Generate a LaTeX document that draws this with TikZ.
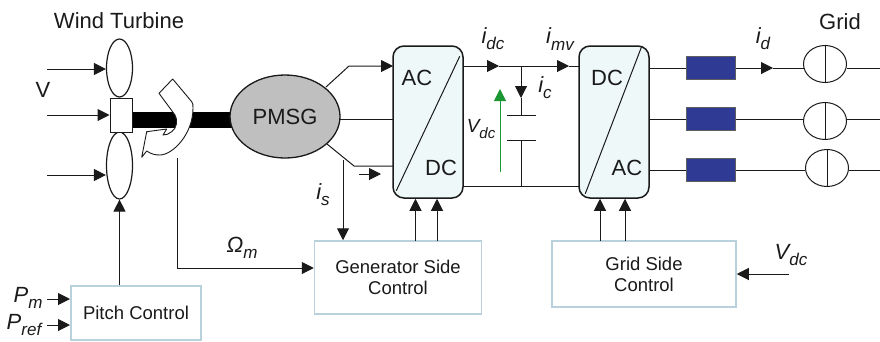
\documentclass[tikz,border=0pt]{standalone}
\usepackage{fontspec}
\setmainfont{Liberation Sans}
\usetikzlibrary{arrows.meta,shapes.geometric}
\definecolor{convfill}{HTML}{EEF8F8}
\definecolor{ctrlline}{HTML}{B9D1DC}
\definecolor{filtblue}{HTML}{2E3A94}
\definecolor{vgreen}{HTML}{1A9632}
\definecolor{ink}{HTML}{1A1A1A}
\newcommand{\sbs}[1]{\raisebox{-0.28em}{\fontsize{17}{17}\selectfont #1}}

\begin{document}
\begin{tikzpicture}[x=1pt, y=-1pt, line width=1pt, color=ink,
  big/.style={font=\fontsize{22}{24}\selectfont, inner sep=0pt},
  sym/.style={font=\fontsize{22}{24}\selectfont\itshape, inner sep=0pt},
  blade/.style={shape=ellipse, draw, fill=white, inner sep=0pt, line width=1.2pt, minimum width=26pt},
  conv/.style={draw, rounded corners=11pt, fill=convfill, line width=1.5pt, minimum width=70pt, minimum height=152pt, inner sep=0pt},
  ctrl/.style={draw=ctrlline, line width=1.5pt, fill=white, align=center, text=ink, inner sep=0pt, font=\fontsize{18.5}{21}\selectfont},
  filt/.style={draw=ink!70, fill=filtblue, minimum width=49pt, minimum height=23pt, inner sep=0pt},
  src/.style={shape=ellipse, draw, fill=white, minimum width=43pt, minimum height=37pt, inner sep=0pt},
  e/.style={-{Triangle[length=12pt, width=12pt]}}]
\useasboundingbox (0,0) rectangle (880,341);
% turbine
\coordinate (sh1) at (125,120); \coordinate (sh2) at (240,120);
\draw[line width=16.5pt, color=black] (sh1) -- (sh2);
\node[blade, minimum height=58pt] (bladeA) at (119.5,68) {};
\node[blade, minimum height=67pt] (bladeB) at (119.5,165.5) {};
\node[draw, fill=white, inner sep=0pt, minimum width=22pt, minimum height=34pt] (hub) at (121,115) {};
\node[shape=ellipse, draw, fill=black!25, inner sep=0pt, line width=1.3pt, minimum width=110pt, minimum height=83pt, big] (pmsg) at (285,116.5) {PMSG};
\node[big] (wt) at (119,21) {Wind Turbine};
\node[big] (grid) at (840,22) {Grid};
\node[big] (vlab) at (43,90) {V};
% rotation arrow
\draw[fill=white, line width=0.9pt, line join=round] (172.7,79) -- (159,93.3) -- (175,115) .. controls (178,120) and (177,128) .. (171.7,131.7)
  .. controls (169,134) and (166,135) .. (163,135) -- (166.7,129) -- (146.7,131.7) -- (141.7,157.3) -- (146.7,151)
  .. controls (151,154) and (155,155) .. (160,155) .. controls (172,155) and (193,135) .. (193,108) .. controls (193,105) and (193,103) .. (191.7,101.7) -- cycle;
\coordinate (w1) at (47,69); \coordinate (w2) at (47,115); \coordinate (w3) at (47,175);
\draw[e] (w1) -- (w1 -| bladeA.west);
\draw[e] (w2) -- (w2 -| hub.west);
\draw[e] (w3) -- (w3 -| bladeB.west);
% converters
\node[conv] (conv1) at (428,122) {};
\node[conv] (conv2) at (614,122) {};
\draw ([xshift=-4pt,yshift=-11pt]conv1.north east) -- ([xshift=4pt,yshift=8pt]conv1.south west);
\draw ([xshift=-8pt,yshift=-1pt]conv2.north east) -- ([xshift=7pt,yshift=5pt]conv2.south west);
\node[big] (ac1) at (417,78) {AC};
\node[big] (dc1) at (441,168) {DC};
\node[big] (dc2) at (607,78) {DC};
\node[big] (ac2) at (627,168) {AC};
% generator lines
\coordinate (g1) at (326,87); \coordinate (g1b) at (349,66); \coordinate (g1c) at (393,66);
\coordinate (g3) at (327,144); \coordinate (g3b) at (354,166); \coordinate (g3c) at (393,166);
\coordinate (g2c) at (393,119); \coordinate (g2) at (340,119);
\draw[e] (g1) -- (g1b) -- (g1c);
\draw (g2) -- (g2c);
\draw (g3) -- (g3b) -- (g3c);
\coordinate (sa) at (359,174); \coordinate (sb) at (381,174);
\draw[e] (sa) -- (sb);
% dc link
\coordinate (bt1) at (463,66); \coordinate (bt2) at (499,66); \coordinate (bt3) at (521,66); \coordinate (bt4) at (569,66); \coordinate (bt5) at (579,66);
\coordinate (bb1) at (463,186); \coordinate (bb3) at (521,186); \coordinate (bb5) at (579,186);
\coordinate (ct) at (521,115); \coordinate (cb) at (521,140); \coordinate (ctip) at (521,98);
\draw[e] (bt1) -- (bt2);
\draw[e] (bt2) -- (bt4);
\draw (bt4) -- (bt5);
\draw (bb1) -- (bb5);
\draw[e] (bt3) -- (ctip);
\draw (ctip) -- (ct);
\draw (cb) -- (bb3);
\draw ([xshift=-14.5pt]ct) -- ([xshift=14.5pt]ct);
\draw ([xshift=-14.5pt]cb) -- ([xshift=14.5pt]cb);
\coordinate (va) at (500,172); \coordinate (vb) at (500,89);
\draw[e, color=vgreen] (va) -- (vb);
\node[sym] (idc) at (493,39) {i\sbs{dc}};
\node[sym] (imv) at (560,39) {i\sbs{mv}};
\node[sym] (ic) at (545,88) {i\sbs{c}};
\node[sym, font=\fontsize{19}{20}\selectfont\itshape] (vdc) at (481,129) {V\raisebox{-0.28em}{\fontsize{15}{15}\selectfont dc}};
\node[sym] (is) at (323,195) {i\sbs{s}};
% grid side
\foreach \n/\ly/\cy/\cx in {1/68/64/825,2/119/121/825,3/170/168/827} {
  \coordinate (o\n) at (649,\ly);
  \node[filt] (f\n) at (710.5,\ly) {};
  \node[src] (s\n) at (\cx,\cy) {};
  \coordinate (r\n) at (880,\ly);
  \draw (o\n) -- (f\n.west);
  \draw[line width=0.8pt] (s\n.north) -- (s\n.south);
}
\coordinate (dtip) at (773,68); \coordinate (s1w) at (804,68); \coordinate (s1e) at (847,68);
\coordinate (s2w) at (804,119); \coordinate (s2e) at (847,119);
\coordinate (s3w) at (805,170); \coordinate (s3e) at (849,170);
\draw[e] (f1.east) -- (dtip);
\draw (dtip) -- (s1w); \draw (s1e) -- (r1);
\draw (f2.east) -- (s2w); \draw (s2e) -- (r2);
\draw (f3.east) -- (s3w); \draw (s3e) -- (r3);
\node[sym] (id) at (763,39) {i\sbs{d}};
% control
\node[ctrl, minimum width=130pt, minimum height=54pt] (pitch) at (136,313) {Pitch Control};
\node[ctrl, minimum width=167pt, minimum height=73pt] (gen) at (398,277.5) {Generator Side\\Control};
\node[ctrl, minimum width=184pt, minimum height=66pt] (gsc) at (644,274) {Grid Side\\Control};
\draw[e] (pitch.north -| bladeB.south) -- (bladeB.south);
\coordinate (pm) at (47,299); \coordinate (pmt) at (70,299);
\coordinate (pr) at (47,325); \coordinate (prt) at (70,325);
\draw[e] (pm) -- (pmt);
\draw[e] (pr) -- (prt);
\node[sym] (pml) at (28,298) {P\sbs{m}};
\node[sym] (prl) at (24,325) {P\sbs{ref}};
\coordinate (om) at (177,158); \coordinate (omb) at (177,268);
\draw[e] (om) -- (omb) -- (omb -| gen.west);
\node[sym] (oml) at (242,248) {Ω\sbs{m}};
\coordinate (isa) at (343,160);
\draw[e] (isa) -- (isa |- gen.north);
\coordinate (g1a) at (415.5,241); \coordinate (g2a) at (437,241);
\coordinate (g3a) at (600,241); \coordinate (g4a) at (625,241);
\draw[e] (g1a) -- (g1a |- conv1.south);
\draw[e] (g2a) -- (g2a |- conv1.south);
\draw[e] (g3a) -- (g3a |- conv2.south);
\draw[e] (g4a) -- (g4a |- conv2.south);
\coordinate (vin) at (789,274);
\draw[e] (vin) -- (vin -| gsc.east);
\node[sym] (vdc2) at (791,255) {V\sbs{dc}};
\end{tikzpicture}
\end{document}
